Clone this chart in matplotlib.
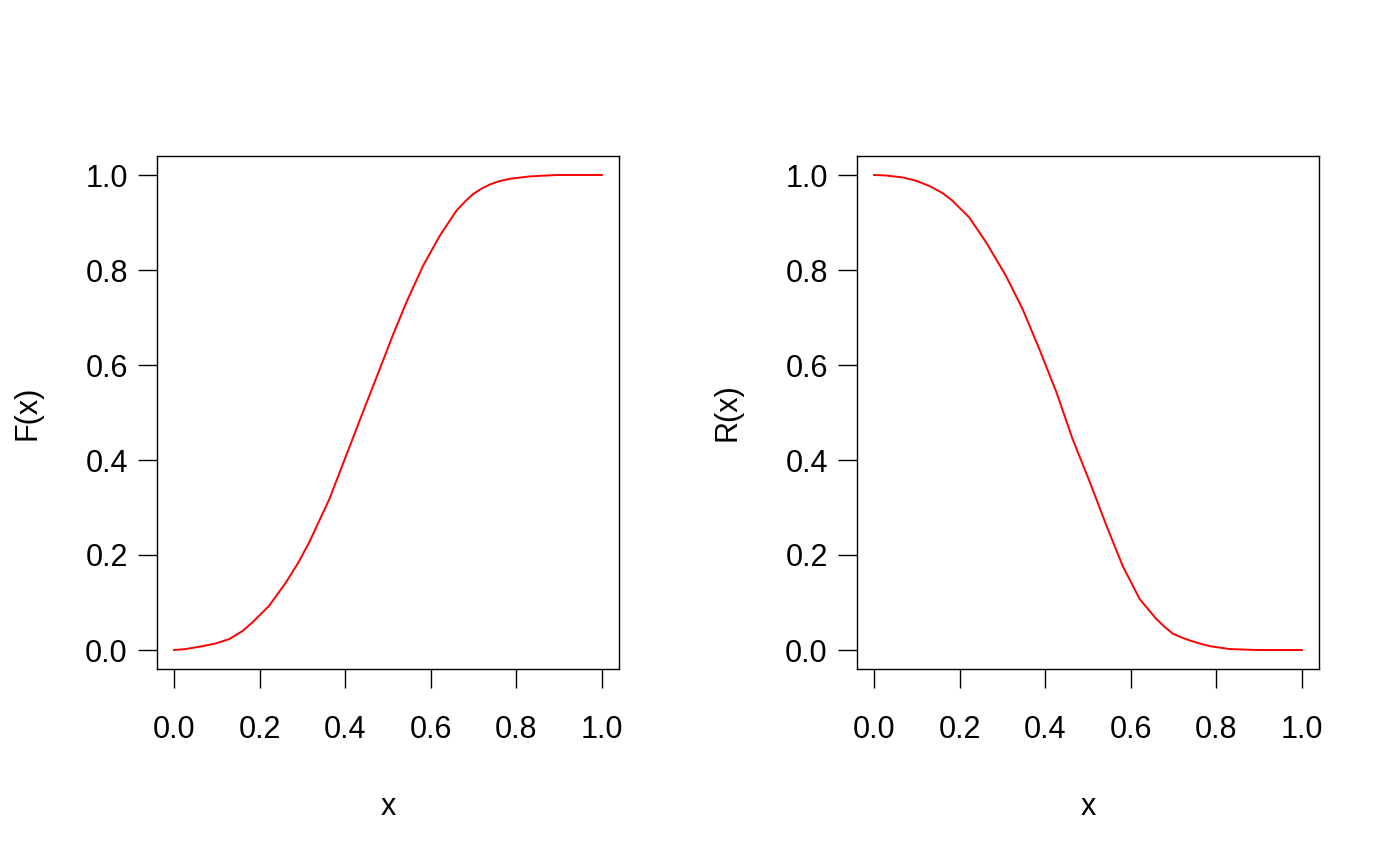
import matplotlib
matplotlib.use("Agg")
import matplotlib.pyplot as plt

# === 数据===
cdf_x = [0.000, 0.027, 0.066, 0.098, 0.129, 0.160, 0.183, 0.222, 0.262, 0.291, 0.316,
         0.363, 0.402, 0.441, 0.480, 0.511, 0.543, 0.582, 0.621, 0.660, 0.680, 0.699,
         0.720, 0.738, 0.760, 0.785, 0.831, 0.894, 1.000]
cdf_y = [0.000, 0.002, 0.008, 0.014, 0.023, 0.040, 0.058, 0.093, 0.143, 0.185, 0.227,
         0.318, 0.409, 0.500, 0.590, 0.662, 0.732, 0.809, 0.872, 0.925, 0.944, 0.960,
         0.972, 0.980, 0.987, 0.992, 0.997, 1.000, 1.000]

rel_x = [0.000, 0.027, 0.066, 0.098, 0.129, 0.160, 0.183, 0.222, 0.262, 0.308, 0.347,
         0.386, 0.426, 0.464, 0.504, 0.543, 0.581, 0.621, 0.660, 0.680, 0.699, 0.720,
         0.738, 0.760, 0.785, 0.831, 0.894, 1.000]
rel_y = [1.000, 0.999, 0.995, 0.988, 0.977, 0.962, 0.946, 0.911, 0.858, 0.788, 0.718,
         0.634, 0.543, 0.444, 0.354, 0.262, 0.177, 0.107, 0.065, 0.048, 0.034, 0.026,
         0.020, 0.014, 0.008, 0.002, 0.000, 0.000]

ticks = [0.0, 0.2, 0.4, 0.6, 0.8, 1.0]
tick_labels = ["0.0", "0.2", "0.4", "0.6", "0.8", "1.0"]

plt.rcParams['font.family'] = ['Liberation Sans', 'DejaVu Sans']

fig = plt.figure(figsize=(14, 8.66), dpi=100)

# 两个面板的位置（像素换算）
panels = [
    (157 / 1400, cdf_x, cdf_y, "F(x)"),
    (857 / 1400, rel_x, rel_y, "R(x)"),
]

for left, xv, yv, ylab in panels:
    ax = fig.add_axes([left, 1 - 669 / 866, 462 / 1400, 513 / 866])
    ax.plot(xv, yv, color='red', linewidth=1.4, solid_joinstyle='round')
    ax.set_xlim(-0.04, 1.04)
    ax.set_ylim(-0.04, 1.04)
    ax.set_xticks(ticks)
    ax.set_xticklabels(tick_labels)
    ax.set_yticks(ticks)
    ax.set_yticklabels(tick_labels)
    ax.tick_params(axis='both', direction='out', length=14, width=1.0,
                   labelsize=22, color='black')
    ax.tick_params(axis='x', pad=19)
    ax.tick_params(axis='y', pad=7)
    for sp in ax.spines.values():
        sp.set_linewidth(1.0)
        sp.set_color('black')

    ax.set_xlabel("x", fontsize=22)
    ax.xaxis.label.set_va('center')
    ax.xaxis.set_label_coords(0.5, -0.269)
    ax.set_ylabel(ylab, fontsize=22)
    ax.yaxis.label.set_va('center')
    ax.yaxis.set_label_coords(-0.281, 0.5)

fig.savefig("out.png", dpi=100)
plt.close(fig)
